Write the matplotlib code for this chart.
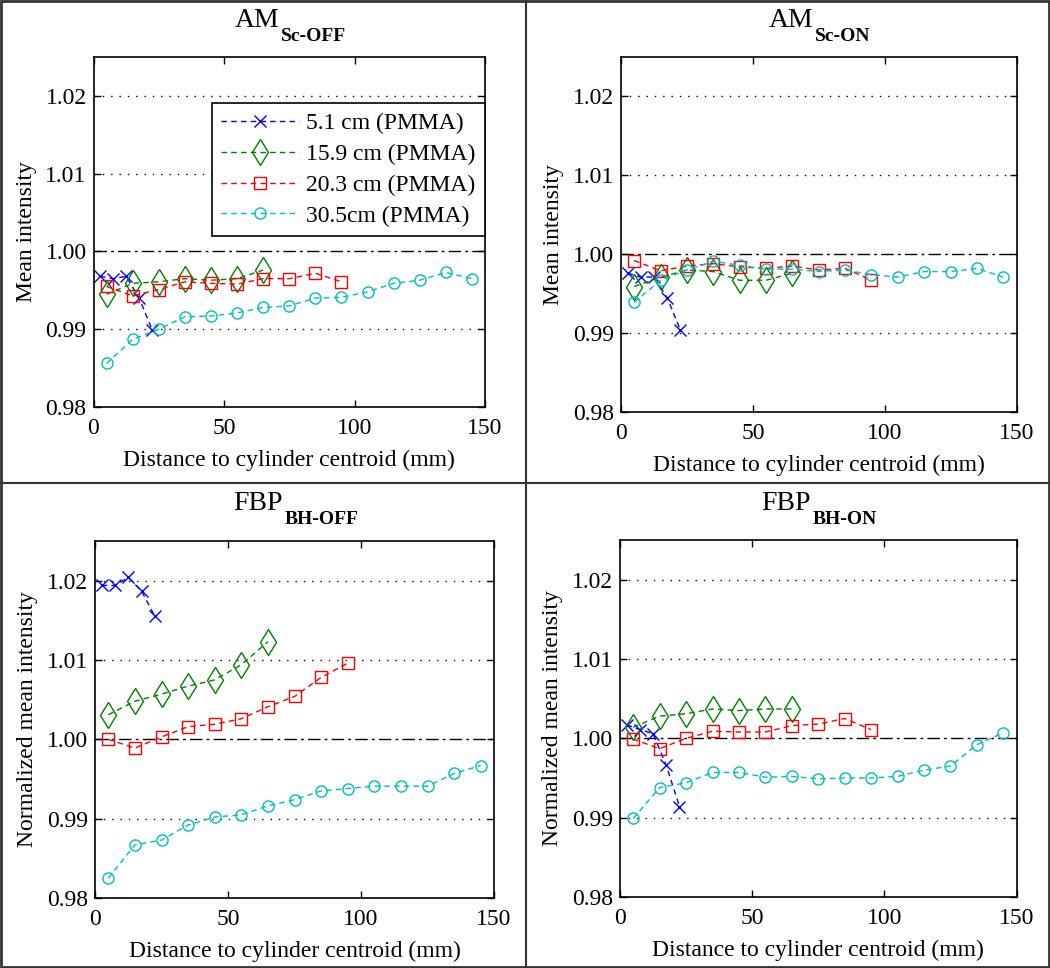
import matplotlib
matplotlib.use("Agg")
import matplotlib.pyplot as plt
from matplotlib.lines import Line2D
from matplotlib.patches import Rectangle

# distances (mm) from the cylinder centroid for each phantom size
x_51 = [2.5, 7.5, 12.5, 17.5, 22.5]
x_159 = [5, 15, 25, 35, 45, 55, 65]
x_203 = [5, 15, 25, 35, 45, 55, 65, 75, 85, 95]
x_305 = [5, 15, 25, 35, 45, 55, 65, 75, 85, 95, 105, 115, 125, 135, 145]

series_labels = ["5.1 cm (PMMA)", "15.9 cm (PMMA)", "20.3 cm (PMMA)", "30.5cm (PMMA)"]

# AM, scatter correction off
am_off_51 = [0.9968, 0.9965, 0.9968, 0.9940, 0.9899]
am_off_159 = [0.9945, 0.9959, 0.9961, 0.9965, 0.9963, 0.9965, 0.9976]
am_off_203 = [0.9955, 0.9943, 0.9951, 0.9961, 0.9959, 0.9958, 0.9965, 0.9965, 0.9972, 0.9961]
am_off_305 = [0.9856, 0.9887, 0.9900, 0.9916, 0.9917, 0.9921, 0.9928, 0.9930, 0.9940,
              0.9941, 0.9948, 0.9959, 0.9963, 0.9973, 0.9965]

# AM, scatter correction on
am_on_51 = [0.9976, 0.9971, 0.9971, 0.9945, 0.9904]
am_on_159 = [0.9959, 0.9971, 0.9980, 0.9978, 0.9967, 0.9967, 0.9976]
am_on_203 = [0.9992, 0.9979, 0.9985, 0.9988, 0.9984, 0.9982, 0.9985, 0.9980, 0.9982, 0.9967]
am_on_305 = [0.9939, 0.9967, 0.9980, 0.9991, 0.9986, 0.9981, 0.9981, 0.9978, 0.9980,
             0.9974, 0.9971, 0.9978, 0.9978, 0.9982, 0.9971]

# FBP, beam hardening correction off
fbp_off_51 = [1.0194, 1.0194, 1.0204, 1.0187, 1.0155]
fbp_off_159 = [1.0031, 1.0048, 1.0057, 1.0067, 1.0075, 1.0094, 1.0123]
fbp_off_203 = [1.0000, 0.9989, 1.0003, 1.0016, 1.0019, 1.0026, 1.0041, 1.0054, 1.0078, 1.0096]
fbp_off_305 = [0.9825, 0.9867, 0.9873, 0.9892, 0.9902, 0.9905, 0.9916, 0.9924, 0.9935,
               0.9938, 0.9941, 0.9941, 0.9941, 0.9957, 0.9967]

# FBP, beam hardening correction on
fbp_on_51 = [1.0017, 1.0011, 1.0006, 0.9966, 0.9914]
fbp_on_159 = [1.0014, 1.0028, 1.0031, 1.0037, 1.0035, 1.0037, 1.0037]
fbp_on_203 = [0.9999, 0.9987, 1.0000, 1.0009, 1.0008, 1.0008, 1.0016, 1.0018, 1.0025, 1.0011]
fbp_on_305 = [0.9899, 0.9938, 0.9944, 0.9957, 0.9957, 0.9951, 0.9952, 0.9949, 0.9950,
              0.9950, 0.9952, 0.9960, 0.9965, 0.9992, 1.0007]

plt.rcParams["font.family"] = "serif"
plt.rcParams["font.serif"] = ["Liberation Serif", "DejaVu Serif"]

W, H = 1050, 968
fig = plt.figure(figsize=(W / 100, H / 100), dpi=100)

def px_axes(left, top, right, bottom):
    # pixel box -> figure fraction
    return fig.add_axes([left / W, 1 - bottom / H, (right - left) / W, (bottom - top) / H])

styles = [("#0000ff", "x", 9), ("#008000", "d", 13), ("#ff0000", "s", 8), ("#00bfbf", "o", 8)]

panels = [
    # (box, main title, subscript, ylabel, series)
    ((93.5, 57, 485, 407), "AM", "Sc-OFF", "Mean intensity",
     [(x_51, am_off_51), (x_159, am_off_159), (x_203, am_off_203), (x_305, am_off_305)]),
    ((621, 57, 1016.5, 412), "AM", "Sc-ON", "Mean intensity",
     [(x_51, am_on_51), (x_159, am_on_159), (x_203, am_on_203), (x_305, am_on_305)]),
    ((95, 541, 494, 898), "FBP", "BH-OFF", "Normalized mean intensity",
     [(x_51, fbp_off_51), (x_159, fbp_off_159), (x_203, fbp_off_203), (x_305, fbp_off_305)]),
    ((620, 540, 1016.5, 897), "FBP", "BH-ON", "Normalized mean intensity",
     [(x_51, fbp_on_51), (x_159, fbp_on_159), (x_203, fbp_on_203), (x_305, fbp_on_305)]),
]

titles = []
for i, (box, main, sub, ylab, series) in enumerate(panels):
    ax = px_axes(*box)
    for y in [0.99, 1.01, 1.02]:
        ax.axhline(y, color="k", lw=1, ls=(0, (1, 5)), zorder=1)
    ax.axhline(1.0, color="k", lw=1, ls=(0, (9, 3, 2, 3)), zorder=1)
    for (xs, ys), (c, m, ms), lab in zip(series, styles, series_labels):
        ax.plot(xs, ys, color=c, ls=(0, (4, 3)), lw=1, marker=m, ms=ms,
                mfc="none", mec=c, mew=1, label=lab, zorder=3)
    ax.set_xlim(0, 150)
    ax.set_ylim(0.98, 1.025)
    ax.set_xticks([0, 50, 100, 150])
    ax.set_yticks([0.98, 0.99, 1.00, 1.01, 1.02])
    ax.set_yticklabels(["0.98", "0.99", "1.00", "1.01", "1.02"])
    ax.tick_params(direction="in", top=True, right=True, length=5, width=1,
                   labelsize=17)
    ax.tick_params(axis="x", pad=8)
    ax.tick_params(axis="y", pad=5)
    for sp in ax.spines.values():
        sp.set_linewidth(1.2)
    ax.set_xlabel("Distance to cylinder centroid (mm)", fontsize=17, labelpad=8)
    ax.set_ylabel(ylab, fontsize=17, labelpad=6)
    if i == 0:
        leg = ax.legend(loc="upper right", bbox_to_anchor=(1.0, 0.869), borderaxespad=0,
                        fontsize=17, handlelength=3.3, handletextpad=0.3,
                        labelspacing=0.4, borderpad=0.4, fancybox=False,
                        framealpha=1, edgecolor="k")
        leg.get_frame().set_linewidth(1.2)

    # title is a main word plus a bold subscript
    base = 27 if i < 2 else 510
    t1 = fig.text(0, 1 - base / H, main, fontsize=20, ha="right", va="baseline")
    t2 = fig.text(0, 1 - (base + 14) / H, sub, fontsize=14, fontweight="bold",
                  ha="left", va="baseline")
    titles.append(((box[0] + box[2]) / 2, t1, t2))

# center each title pair over its axes
fig.canvas.draw()
r = fig.canvas.get_renderer()
for cx, t1, t2 in titles:
    w1 = t1.get_window_extent(r).width
    w2 = t2.get_window_extent(r).width
    xb = cx - (w1 + w2) / 2 + w1
    t1.set_x(xb / W)
    t2.set_x((xb + 2) / W)

# outer frame and quadrant dividers
fig.add_artist(Rectangle((0.001, 0.001), 0.998, 0.998, transform=fig.transFigure,
                         fill=False, ec="#333333", lw=2))
fig.add_artist(Line2D([526 / W, 526 / W], [0, 1], transform=fig.transFigure, color="#333333", lw=1.5))
fig.add_artist(Line2D([0, 1], [1 - 483 / H, 1 - 483 / H], transform=fig.transFigure, color="#333333", lw=1.5))

fig.savefig("out.png", dpi=100)
